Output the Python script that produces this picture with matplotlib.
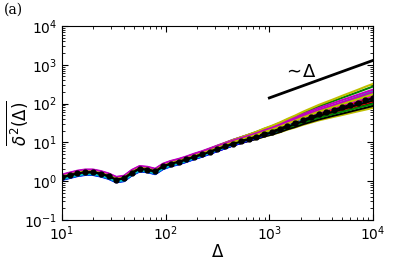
import numpy as np
import matplotlib
matplotlib.use("Agg")
import matplotlib.pyplot as plt

# log10 of lag Delta
log_delta = [1.000, 1.075, 1.150, 1.225, 1.300, 1.375, 1.450, 1.525, 1.600, 1.675,
             1.750, 1.825, 1.900, 1.975, 2.050, 2.125, 2.200, 2.275, 2.350, 2.425,
             2.500, 2.575, 2.650, 2.725, 2.800, 2.875, 2.950, 3.025, 3.100, 3.175,
             3.250, 3.325, 3.400, 3.475, 3.550, 3.625, 3.700, 3.775, 3.850, 3.925,
             4.000]

# log10 of ensemble mean
log_mean = [0.10, 0.15, 0.20, 0.23, 0.23, 0.19, 0.13, 0.04, 0.07, 0.22,
            0.32, 0.30, 0.25, 0.38, 0.45, 0.50, 0.56, 0.63, 0.69, 0.76,
            0.83, 0.90, 0.97, 1.03, 1.09, 1.15, 1.22, 1.28, 1.35, 1.43,
            1.50, 1.58, 1.65, 1.72, 1.78, 1.84, 1.90, 1.96, 2.02, 2.08,
            2.14]

# how much the single trajectories fan out along Delta (0 = early offset, 1 = late)
fan_weight = [0, 0, 0, 0, 0, 0, 0, 0, 0, 0,
              0, 0, 0, 0, 0.01, 0.02, 0.04, 0.05, 0.07, 0.09,
              0.12, 0.14, 0.17, 0.20, 0.23, 0.27, 0.31, 0.35, 0.39, 0.43,
              0.48, 0.53, 0.58, 0.63, 0.68, 0.73, 0.79, 0.84, 0.89, 0.95,
              1.0]

# per trajectory offsets (dex) from the mean: at small Delta and at Delta = 1e4
traj_colors = ['b', 'g', 'r', 'c', 'm', 'y', 'k'] * 3
traj_early = [-0.07, 0.05, -0.03, -0.06, 0.07, 0.03, 0.00,
              -0.05, 0.04, -0.04, -0.03, 0.06, 0.01, -0.01,
              -0.06, 0.03, -0.02, -0.05, 0.05, 0.02, 0.00]
traj_late = [0.08, 0.30, 0.05, 0.18, 0.22, 0.37, -0.12,
             -0.03, 0.12, -0.08, -0.02, 0.15, -0.25, -0.20,
             0.00, -0.15, 0.02, 0.10, 0.06, 0.10, -0.06]

# ~Delta guide
guide_x = [1e3, 1e4]
guide_y = [140, 1300]


def main():
    delta = 10 ** np.array(log_delta)
    lm = np.array(log_mean)
    w = np.array(fan_weight)

    fig = plt.figure(figsize=(4.15, 2.6), dpi=100)
    ax = fig.add_axes([0.149, 0.154, 0.75, 0.746])

    for c, e, l in zip(traj_colors, traj_early, traj_late):
        ax.plot(delta, 10 ** (lm + e * (1 - w) + l * w), color=c, lw=1.5)

    ax.plot(delta, 10 ** lm, 'k--', marker='o', ms=3.5, lw=1.5)
    ax.plot(guide_x, guide_y, 'k-', lw=2)
    ax.text(1.95e3, 650, r'$\sim\!\Delta$', fontsize=13, ha='center', va='center')

    ax.set_xscale('log')
    ax.set_yscale('log')
    ax.set_xlim(10, 1e4)
    ax.set_ylim(0.1, 1e4)
    ax.tick_params(which='both', direction='in', top=True, right=True, labelsize=10)
    ax.tick_params(which='major', length=4)
    ax.tick_params(which='minor', length=2)
    ax.set_xlabel(r'$\Delta$', fontsize=12, labelpad=0)
    ax.set_ylabel(r'$\overline{\delta^2(\Delta)}$', fontsize=12)
    ax.yaxis.set_label_coords(-0.1, 0.5)
    fig.text(0.01, 0.99, '(a)', fontsize=10, va='top', family='DejaVu Serif')

    fig.savefig('out.png', dpi=100)


if __name__ == "__main__":
    main()
